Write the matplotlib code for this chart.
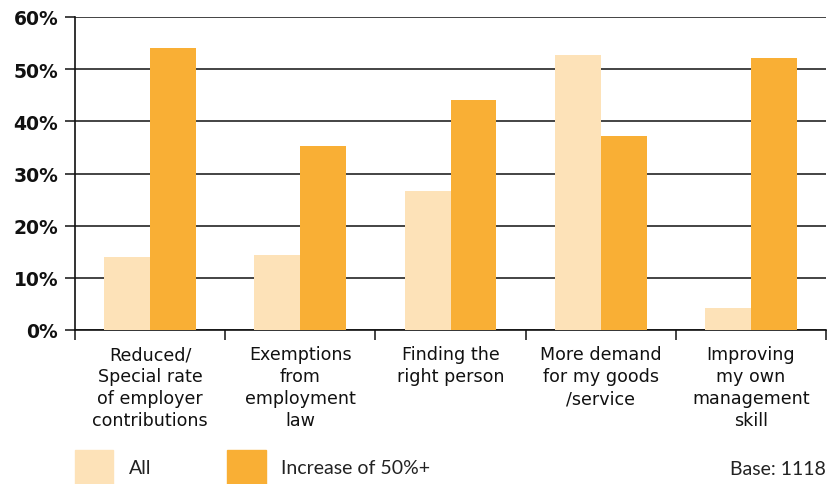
import matplotlib
matplotlib.use("Agg")
import matplotlib.pyplot as plt
from matplotlib.patches import Patch

# data
categories = [
    "Reduced/\nSpecial rate\nof employer\ncontributions",
    "Exemptions\nfrom\nemployment\nlaw",
    "Finding the\nright person",
    "More demand\nfor my goods\n/service",
    "Improving\nmy own\nmanagement\nskill",
]
all_values = [14.0, 14.4, 26.6, 52.7, 4.2]
increase_values = [54.0, 35.3, 44.1, 37.2, 52.1]
series_names = ["All", "Increase of 50%+"]
y_ticks = [0, 10, 20, 30, 40, 50, 60]

light = "#FDE2B8"
orange = "#F9AF35"
ink = "#111111"

fig = plt.figure(figsize=(8.27, 4.85), dpi=100)
ax = fig.add_axes([75 / 827, 1 - 331 / 485, 751 / 827, 313 / 485])

x = list(range(len(categories)))
w = 0.306
ax.bar([i - w / 2 for i in x], all_values, width=w, color=light, zorder=3)
ax.bar([i + w / 2 for i in x], increase_values, width=w, color=orange, zorder=3)

ax.set_xlim(-0.5, len(categories) - 0.5)
ax.set_ylim(0, 60)
ax.set_yticks(y_ticks)
ax.set_yticklabels([f"{v}%" for v in y_ticks], fontsize=13.5, fontweight="bold",
                   family="DejaVu Sans", color=ink)
ax.yaxis.grid(True, color=ink, linewidth=1.1, zorder=0)
ax.set_axisbelow(True)

ax.set_xticks(x)
ax.set_xticklabels(categories, fontsize=12.6, linespacing=1.28, family="DejaVu Sans", color=ink)
ax.set_xticks([i - 0.5 for i in range(len(categories) + 1)], minor=True)
ax.tick_params(axis="x", which="major", length=0, pad=11)
ax.tick_params(axis="x", which="minor", length=7, width=1.1, direction="out", color=ink)
ax.tick_params(axis="y", length=7, width=1.1, color=ink, pad=5)

for side in ["top", "right"]:
    ax.spines[side].set_visible(False)
for side in ["left", "bottom"]:
    ax.spines[side].set_color(ink)
    ax.spines[side].set_linewidth(1.2)

handles = [Patch(color=light), Patch(color=orange)]
leg = fig.legend(handles, series_names, loc="center left", bbox_to_anchor=(75 / 827, 1 - 468 / 485),
                 ncol=2, frameon=False, prop={"family": "Lato", "size": 14},
                 handlelength=1.97, handleheight=2.3, handletextpad=0.8,
                 columnspacing=3.9, borderpad=0, borderaxespad=0)
for t in leg.get_texts():
    t.set_color("#222222")

fig.text(826 / 827, 1 - 470 / 485, "Base: 1118", ha="right", va="center",
         family="Lato", fontsize=14, color="#222222")

fig.savefig("out.png", dpi=100)
